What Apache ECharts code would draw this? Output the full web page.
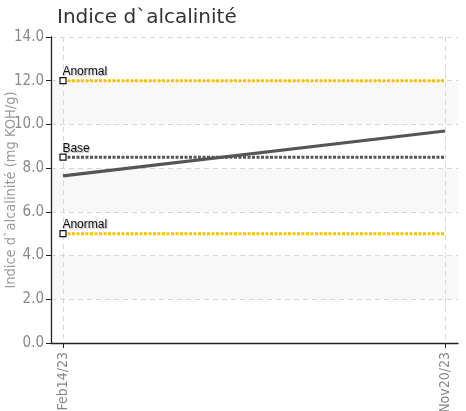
<!DOCTYPE html>
<html><head><meta charset="utf-8">
<script src="https://cdn.jsdelivr.net/npm/echarts@6/dist/echarts.min.js"></script>
<style>html,body{margin:0;padding:0;background:#fff}#c{width:466px;height:411px}</style>
</head><body><div id="c"></div>
<script>
var categories = ['Feb14/23', 'Nov20/23'];
var values = [7.65, 9.7];
var yTicks = [0, 2, 4, 6, 8, 10, 12, 14];
var refNames = ['Anormal', 'Base', 'Anormal'];
var refValues = [12, 8.5, 5];
var refColors = ['#f5c200', '#555555', '#f5c200'];

var narrow = "'Liberation Sans Narrow', 'DejaVu Sans Condensed', sans-serif";
var chart = echarts.init(document.getElementById('c'));
var idx = categories.map(function (c, i) { return i; });

var series = refValues.map(function (v, k) {
  return {
    type: 'line', z: 2, silent: true,
    lineStyle: { color: refColors[k], width: 3, type: [3, 1.5] },
    data: [
      { value: [idx[0], v], symbol: 'rect', symbolSize: 6,
        itemStyle: { color: '#fff', borderColor: '#111', borderWidth: 1.2 },
        label: { show: true, formatter: refNames[k], position: [3, -11], align: 'left', verticalAlign: 'top',
          fontFamily: "'Liberation Sans', Arial, sans-serif", fontSize: 12, color: '#111',
          textShadowColor: 'rgba(0,0,0,0.3)', textShadowBlur: 1, textShadowOffsetX: 1, textShadowOffsetY: 1 } },
      { value: [idx[idx.length - 1], v], symbol: 'none' }
    ]
  };
});
series.push({
  type: 'line', z: 3, silent: true, symbol: 'none',
  lineStyle: { color: '#555', width: 3.2 },
  data: values.map(function (v, i) { return [idx[i], v]; })
});

chart.setOption({
  animation: false,
  title: { text: 'Indice d`alcalinité', left: 52, top: 3,
    textStyle: { fontFamily: "'DejaVu Sans', Verdana, sans-serif", fontSize: 20, fontWeight: 'normal', color: '#333' } },
  grid: { left: 51, top: 37, right: 8, bottom: 68, containLabel: false, outerBoundsMode: 'none' },
  xAxis: {
    type: 'value', min: -0.0314, max: 1.034,
    axisLine: { onZero: false, lineStyle: { color: '#222', width: 1.3 } },
    axisTick: { customValues: idx, length: 5, lineStyle: { color: '#222' } },
    axisLabel: { customValues: idx, rotate: 90, margin: 9, color: '#888', fontFamily: narrow, fontSize: 14,
      formatter: function (v) { return categories[Math.round(v)]; } },
    splitLine: { show: true, lineStyle: { color: '#d6d6d6', type: [5, 4] } }
  },
  yAxis: {
    type: 'value', min: yTicks[0], max: yTicks[yTicks.length - 1], interval: 2,
    name: 'Indice d`alcalinité (mg KOH/g)', nameLocation: 'middle', nameGap: 32, nameMoveOverlap: false,
    nameTextStyle: { color: '#999', fontFamily: narrow, fontSize: 14.5 },
    axisLine: { show: true, onZero: false, lineStyle: { color: '#222', width: 1.3 } },
    axisTick: { show: true, length: 5, lineStyle: { color: '#222' } },
    axisLabel: { color: '#888', fontFamily: narrow, fontSize: 15, margin: 7,
      formatter: function (v) { return v.toFixed(1); } },
    splitLine: { show: true, lineStyle: { color: '#d6d6d6', type: [5, 4] } },
    splitArea: { show: true, areaStyle: { color: ['#ffffff', '#f8f8f8'] } }
  },
  series: series
});
</script></body></html>
